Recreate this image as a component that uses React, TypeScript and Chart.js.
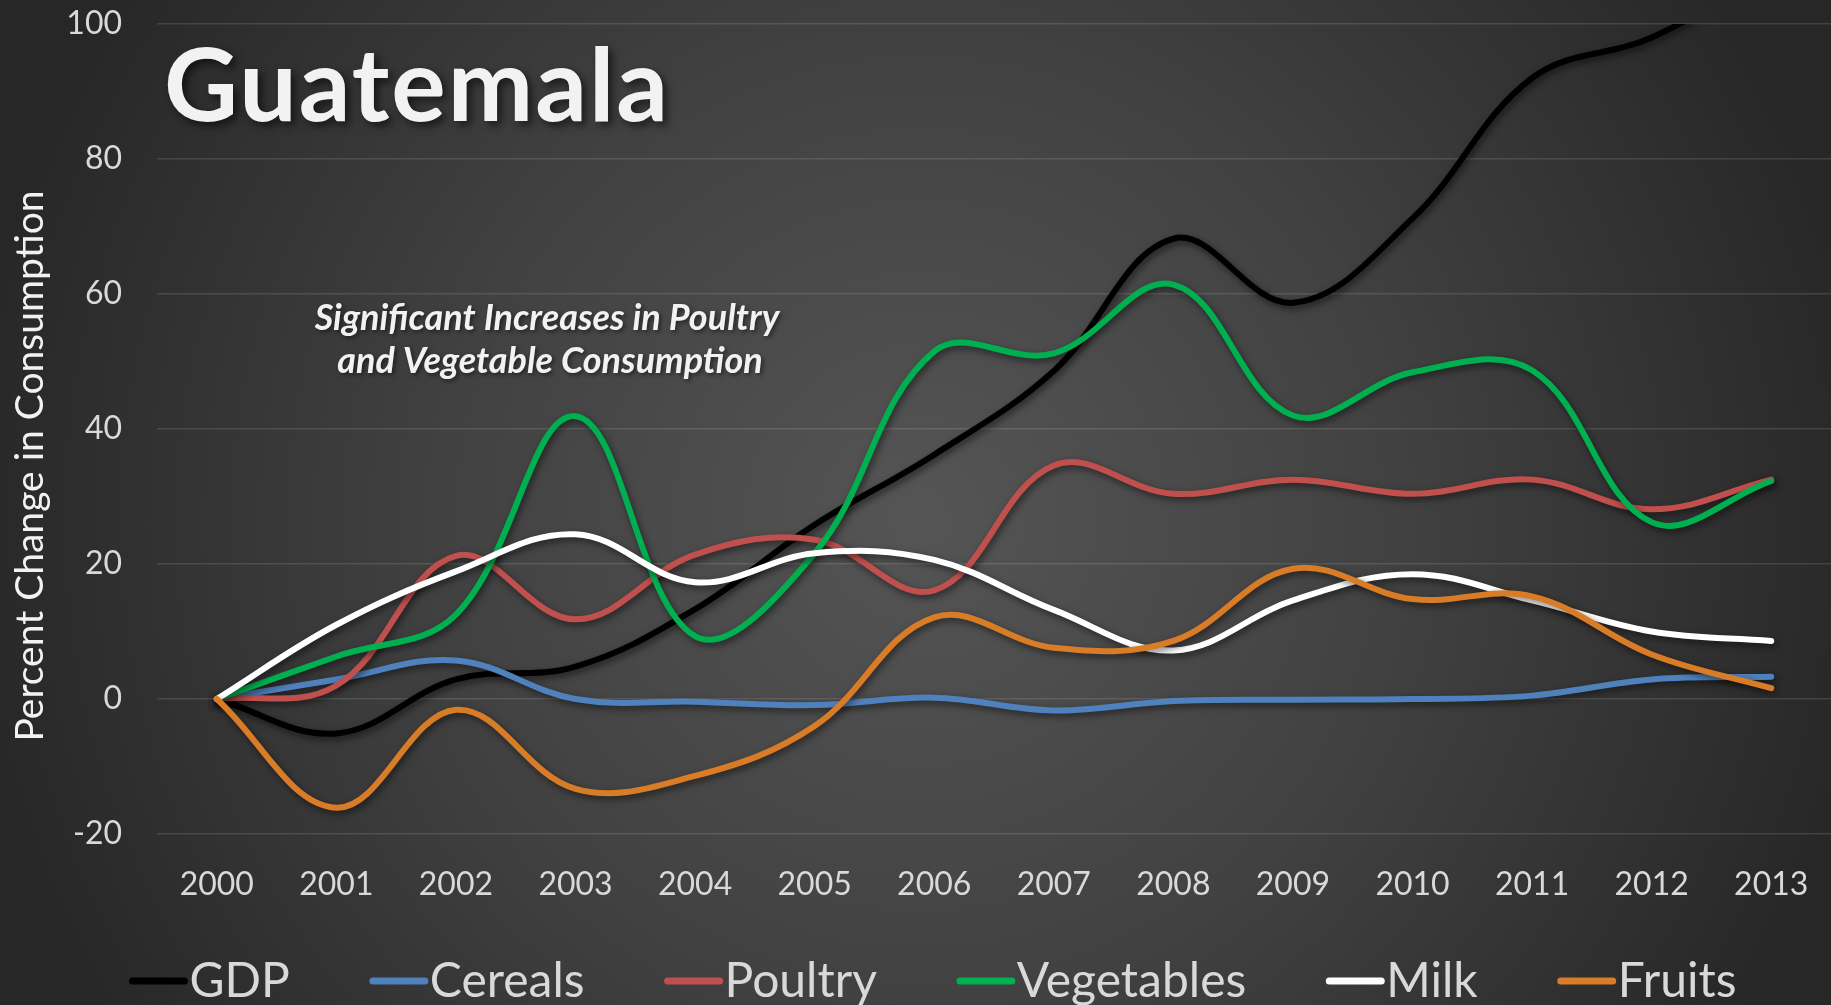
import React, { useEffect, useRef } from "react";
import { Chart, registerables } from "chart.js";

Chart.register(...registerables);

const years = ["2000", "2001", "2002", "2003", "2004", "2005", "2006", "2007", "2008", "2009", "2010", "2011", "2012", "2013"];

const gdp = [0, -5.1, 2.9, 4.8, 13.3, 25.8, 36.2, 48.6, 68.2, 58.7, 71.2, 92, 98, 108];
const cereals = [0, 2.9, 5.7, 0, -0.4, -0.9, 0.2, -1.7, -0.3, -0.1, 0, 0.5, 2.9, 3.3];
const poultry = [0, 2, 21.2, 11.8, 21.4, 23.6, 16.1, 34.6, 30.4, 32.5, 30.4, 32.5, 28.1, 32.5];
const vegetables = [0, 6.3, 12.5, 41.9, 9.3, 21.6, 51.5, 51.2, 61.4, 42, 48.4, 48.7, 26.2, 32.3];
const milk = [0, 11, 18.9, 24.4, 17.3, 21.6, 20.6, 13.2, 7.2, 14.6, 18.5, 14.6, 10, 8.6];
const fruits = [0, -16.1, -1.6, -13.3, -11.4, -4, 12.1, 7.6, 8.6, 19.3, 14.8, 15.2, 6.6, 1.6];

const seriesNames = ["GDP", "Cereals", "Poultry", "Vegetables", "Milk", "Fruits"];
const seriesValues = [gdp, cereals, poultry, vegetables, milk, fruits];
const seriesColors = ["#000000", "#4f81bd", "#c0504d", "#00b050", "#ffffff", "#d97c27"];

const yMin = -20;
const yMax = 100;
const yStep = 20;

const titleText = "Guatemala";
const noteLines = ["Significant Increases in Poultry", "and Vegetable Consumption"];
const yTitle = "Percent Change in Consumption";

const FONT = "Lato, 'Open Sans', 'DejaVu Sans', sans-serif";

const bgPlugin = {
  id: "bg",
  beforeDraw(chart: any) {
    const { ctx, width, height } = chart;
    ctx.save();
    const g = ctx.createRadialGradient(920, 520, 0, 920, 520, 960);
    g.addColorStop(0, "#555555");
    g.addColorStop(0.5, "#414141");
    g.addColorStop(1, "#272727");
    ctx.fillStyle = g;
    ctx.fillRect(0, 0, width, height);
    ctx.restore();
  },
};

const shadowPlugin = {
  id: "lineShadow",
  beforeDatasetsDraw(chart: any) {
    const ctx = chart.ctx;
    ctx.save();
    ctx.shadowColor = "rgba(0,0,0,0.55)";
    ctx.shadowBlur = 7;
    ctx.shadowOffsetX = 2;
    ctx.shadowOffsetY = 3;
  },
  afterDatasetsDraw(chart: any) {
    chart.ctx.restore();
  },
};

const decorPlugin = {
  id: "decor",
  afterDraw(chart: any) {
    const ctx = chart.ctx;
    // Title
    ctx.save();
    ctx.font = `bold 102px ${FONT}`;
    try { (ctx as any).letterSpacing = "2px"; } catch (e) {}
    ctx.fillStyle = "#f2f2f2";
    ctx.textAlign = "left";
    ctx.textBaseline = "alphabetic";
    ctx.shadowColor = "rgba(0,0,0,0.6)";
    ctx.shadowBlur = 8;
    ctx.shadowOffsetX = 4;
    ctx.shadowOffsetY = 4;
    ctx.fillText(titleText, 164, 121);
    ctx.restore();

    // Annotation
    ctx.save();
    ctx.font = `italic bold 36px ${FONT}`;
    ctx.fillStyle = "#f2f2f2";
    ctx.textAlign = "center";
    ctx.textBaseline = "alphabetic";
    ctx.shadowColor = "rgba(0,0,0,0.5)";
    ctx.shadowBlur = 4;
    ctx.shadowOffsetX = 2;
    ctx.shadowOffsetY = 2;
    ctx.fillText(noteLines[0], 547, 330);
    ctx.fillText(noteLines[1], 550, 373);
    ctx.restore();

    // Y axis title
    ctx.save();
    ctx.translate(43, 466);
    ctx.rotate(-Math.PI / 2);
    ctx.font = `39px ${FONT}`;
    ctx.fillStyle = "#f2f2f2";
    ctx.textAlign = "center";
    ctx.textBaseline = "alphabetic";
    ctx.fillText(yTitle, 0, 0);
    ctx.restore();

    // Legend
    ctx.save();
    ctx.font = `48px ${FONT}`;
    ctx.textBaseline = "alphabetic";
    ctx.textAlign = "left";
    const lineW = 58;
    const gapText = 2;
    const gapItem = 80;
    const widths = seriesNames.map((n) => ctx.measureText(n).width);
    let total = 0;
    widths.forEach((w, i) => {
      total += lineW + gapText + w + (i < widths.length - 1 ? gapItem : 0);
    });
    let x = 933 - total / 2;
    seriesNames.forEach((n, i) => {
      ctx.strokeStyle = seriesColors[i];
      ctx.lineWidth = 7;
      ctx.lineCap = "round";
      ctx.beginPath();
      ctx.moveTo(x + 3, 981);
      ctx.lineTo(x + lineW - 3, 981);
      ctx.stroke();
      ctx.fillStyle = "#d9d9d9";
      ctx.fillText(n, x + lineW + gapText, 997);
      x += lineW + gapText + widths[i] + gapItem;
    });
    ctx.restore();
  },
};

export default function App() {
  const ref = useRef<HTMLCanvasElement>(null);

  useEffect(() => {
    document.body.style.margin = "0";
    const canvas = ref.current;
    if (!canvas) return;
    const datasets = seriesNames.map((name, i) => ({
      label: name,
      data: seriesValues[i],
      borderColor: seriesColors[i],
      backgroundColor: seriesColors[i],
      borderWidth: 6,
      pointRadius: 0,
      pointHoverRadius: 0,
      tension: 0.38,
      fill: false,
      borderCapStyle: "round" as const,
      borderJoinStyle: "round" as const,
      order: seriesNames.length - i,
      clip: i === 0 ? { left: 10, top: 0, right: 10, bottom: 10 } : 10,
    }));
    const chart = new Chart(canvas, {
      type: "line",
      data: { labels: years, datasets },
      options: {
        animation: false,
        responsive: false,
        devicePixelRatio: 1,
        layout: { padding: { top: 24, left: 0, right: 0, bottom: 101 } },
        plugins: {
          legend: { display: false },
          tooltip: { enabled: false },
          title: { display: false },
        },
        scales: {
          x: {
            offset: true,
            grid: {
              display: true,
              drawOnChartArea: false,
              drawTicks: true,
              tickLength: 31,
              color: "rgba(0,0,0,0)",
              tickColor: "rgba(0,0,0,0)",
            },
            border: { display: false },
            ticks: {
              color: "#d9d9d9",
              font: { family: FONT, size: 32 },
              padding: 0,
              maxRotation: 0,
              autoSkip: false,
            },
            afterFit: (s: any) => {
              s.height = 70;
            },
          },
          y: {
            min: yMin,
            max: yMax,
            grid: {
              color: "rgba(255,255,255,0.12)",
              lineWidth: 1.5,
              drawTicks: true,
              tickLength: 33,
              tickColor: "rgba(0,0,0,0)",
            },
            border: { display: false },
            ticks: {
              stepSize: yStep,
              color: "#d9d9d9",
              font: { family: FONT, size: 32 },
              padding: 2,
            },
            afterFit: (s: any) => {
              s.width = 157;
            },
          },
        },
      },
      plugins: [bgPlugin, shadowPlugin, decorPlugin],
    });
    return () => chart.destroy();
  }, []);

  return (
    <div style={{ position: "absolute", left: 0, top: 0, width: 1831, height: 1005 }}>
      <canvas ref={ref} width={1831} height={1005} style={{ display: "block", width: 1831, height: 1005 }} />
    </div>
  );
}
